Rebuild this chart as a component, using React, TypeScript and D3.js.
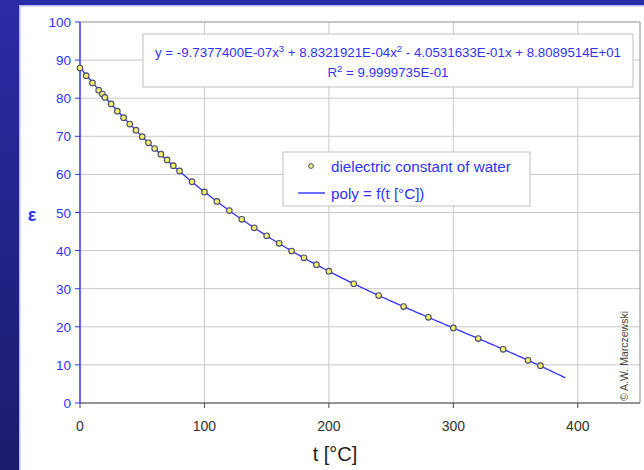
import React from "react";
import * as d3 from "d3";

const temperatures = [0, 5, 10, 15, 18, 20, 25, 30, 35, 40, 45, 50, 55, 60, 65, 70, 75, 80, 90, 100, 110, 120, 130, 140, 150, 160, 170, 180, 190, 200, 220, 240, 260, 280, 300, 320, 340, 360, 370];
const epsilon = [87.9, 85.9, 84.0, 82.1, 81.1, 80.2, 78.5, 76.6, 74.9, 73.2, 71.6, 69.9, 68.3, 66.8, 65.3, 63.8, 62.3, 60.9, 58.1, 55.4, 52.9, 50.5, 48.2, 46.0, 43.9, 41.9, 39.9, 38.1, 36.3, 34.6, 31.3, 28.2, 25.3, 22.5, 19.7, 16.9, 14.1, 11.2, 9.8];
// trendline coefficients shown in the chart (a3, a2, a1, a0)
const polyCoefs = [-9.73774e-7, 8.8321921e-4, -4.0531633e-1, 8.8089514e1];
const trendRange = [0, 390];
const xTicks = [0, 100, 200, 300, 400];
const yTicks = [0, 10, 20, 30, 40, 50, 60, 70, 80, 90, 100];

const W = 644;
const H = 470;
const PL = 80, PR = 640, PT = 22, PB = 403;

export default function App() {
  const x = d3.scaleLinear().domain([0, 450]).range([PL, PR]);
  const y = d3.scaleLinear().domain([0, 100]).range([PB, PT]);
  const poly = (t: number) => polyCoefs[0] * t ** 3 + polyCoefs[1] * t ** 2 + polyCoefs[2] * t + polyCoefs[3];
  const trendT = d3.range(trendRange[0], trendRange[1] + 0.001, 2);
  const line = d3.line<number>().x((t) => x(t)).y((t) => y(poly(t)));
  const blue = "#3333ff";
  const font = "Arial, 'Liberation Sans', sans-serif";

  return (
    <svg width={W} height={H} style={{ position: "absolute", left: 0, top: 0 }} fontFamily={font}>
      <defs>
        <linearGradient id="bg" x1="0" y1="0" x2="0" y2="1">
          <stop offset="0" stopColor="#2b2ba6" />
          <stop offset="1" stopColor="#1b1b6c" />
        </linearGradient>
      </defs>
      <rect x={0} y={0} width={W} height={H} fill="url(#bg)" />
      <rect x={19} y={5} width={W - 19} height={H - 5} fill="#b8b8f0" />
      <rect x={20.5} y={6.5} width={W - 20} height={H - 6} fill="#ffffff" />

      {/* grid */}
      {yTicks.map((v) => (
        <line key={"gy" + v} x1={PL} x2={PR} y1={y(v)} y2={y(v)} stroke="#c8c8c8" strokeWidth={1} />
      ))}
      {xTicks.map((v) => (
        <line key={"gx" + v} x1={x(v)} x2={x(v)} y1={PT} y2={PB} stroke="#c8c8c8" strokeWidth={1} />
      ))}
      <line x1={PR} x2={PR} y1={PT} y2={PB} stroke="#a0a0a0" strokeWidth={1.2} />
      <line x1={PL} x2={PR} y1={PT} y2={PT} stroke="#a8a8a8" strokeWidth={1} />

      {/* x axis */}
      <line x1={PL} x2={PR} y1={PB} y2={PB} stroke="#444" strokeWidth={1.2} />
      {xTicks.map((v) => (
        <g key={"xt" + v}>
          <line x1={x(v)} x2={x(v)} y1={PB} y2={PB + 5} stroke="#444" />
          <text x={x(v)} y={PB + 28} textAnchor="middle" fontSize={14} fill="#333">{v}</text>
        </g>
      ))}
      <text x={335} y={461} textAnchor="middle" fontSize={20} fill="#222">t [°C]</text>

      {/* y axis */}
      <line x1={PL} x2={PL} y1={PT} y2={PB} stroke={blue} strokeWidth={1.4} />
      {yTicks.map((v) => (
        <g key={"yt" + v}>
          <line x1={PL - 5} x2={PL} y1={y(v)} y2={y(v)} stroke={blue} />
          <text x={PL - 9} y={y(v) + 5} textAnchor="end" fontSize={13.5} fill={blue}>{v}</text>
        </g>
      ))}
      <text x={32} y={221} textAnchor="middle" fontSize={18} fontWeight="bold" fill={blue}>ε</text>

      {/* trendline */}
      <path d={line(trendT) || ""} fill="none" stroke={blue} strokeWidth={1.3} />

      {/* points */}
      {temperatures.map((t, i) => (
        <circle key={"p" + i} cx={x(t)} cy={y(epsilon[i])} r={2.8} fill="#f0f070" stroke="#4a4a70" strokeWidth={1.1} />
      ))}

      {/* equation box */}
      <rect x={143} y={34} width={490} height={53} fill="#fff" stroke="#c0c0c0" strokeWidth={1} />
      <text x={388} y={57} textAnchor="middle" fontSize={13.3} fill={blue}>
        y = -9.7377400E-07x<tspan dy={-5} fontSize={9.5}>3</tspan>
        <tspan dy={5}> + 8.8321921E-04x</tspan>
        <tspan dy={-5} fontSize={9.5}>2</tspan>
        <tspan dy={5}> - 4.0531633E-01x + 8.8089514E+01</tspan>
      </text>
      <text x={388} y={77} textAnchor="middle" fontSize={13.3} fill={blue}>
        R<tspan dy={-5} fontSize={9.5}>2</tspan>
        <tspan dy={5}> = 9.9999735E-01</tspan>
      </text>

      {/* legend */}
      <rect x={283} y={152} width={247} height={54} fill="#fff" stroke="#c0c0c0" strokeWidth={1} />
      <circle cx={311} cy={166} r={2.4} fill="#f0f070" stroke="#4a4a70" strokeWidth={1} />
      <text x={331} y={172} fontSize={15.2} fill={blue}>dielectric constant of water</text>
      <line x1={298} x2={325} y1={193} y2={193} stroke={blue} strokeWidth={1.4} />
      <text x={331} y={199} fontSize={15.2} fill={blue}>poly = f(t [°C])</text>

      {/* copyright */}
      <text transform="translate(628,356) rotate(-90)" textAnchor="middle" fontSize={10.5} fill="#444">© A.W. Marczewski</text>
    </svg>
  );
}
